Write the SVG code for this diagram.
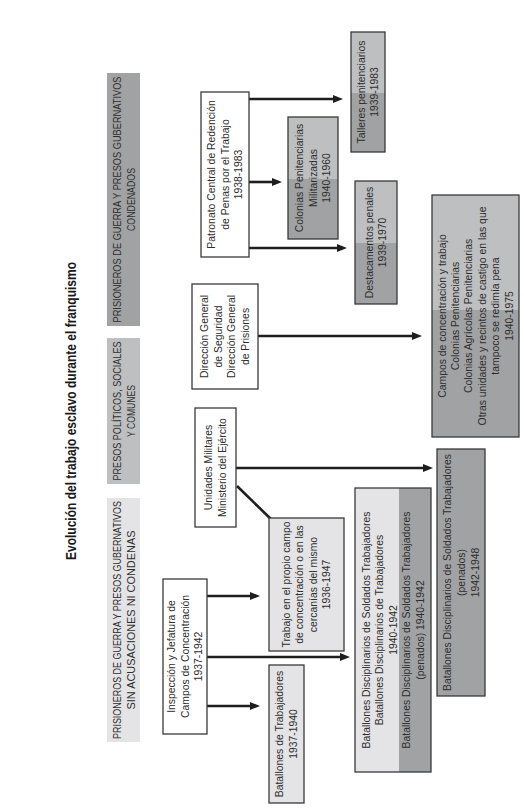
<svg xmlns="http://www.w3.org/2000/svg" width="524" height="808" viewBox="0 0 524 808">
<defs>
<style>
.bg{fill:#ffffff}
.box{stroke:#3a3a3a;stroke-width:1.3}
.w{fill:#ffffff}
.l{fill:#e4e4e6}
.m{fill:#bebfc1}
.d{fill:#a1a2a4}
.t{font-family:"Liberation Sans",Arial,sans-serif;font-size:10.4px;fill:#2e2e2e;text-anchor:middle}
.h{font-family:"Liberation Sans",Arial,sans-serif;font-size:10.2px;fill:#2e2e2e;text-anchor:middle}
.title{font-family:"Liberation Sans",Arial,sans-serif;font-size:14px;font-weight:bold;fill:#1a1a1a;text-anchor:middle}
.c{stroke:#1e1e1e;stroke-width:2.6;fill:none;marker-end:url(#ah)}
</style>
<marker id="ah" markerUnits="userSpaceOnUse" markerWidth="10" markerHeight="8" refX="5" refY="4" orient="auto">
<path d="M0,0 L10,4 L0,8 z" fill="#1e1e1e"/>
</marker>
</defs>
<rect class="bg" x="0" y="0" width="524" height="808"/>

<g id="title" transform="translate(71,411) rotate(-90)">
<text class="title" x="0" y="5" textLength="298" lengthAdjust="spacingAndGlyphs">Evolución del trabajo esclavo durante el franquismo</text>
</g>

<g id="hdr-condenados">
<rect class="d" x="107" y="73" width="33" height="253"/>
<g transform="translate(123.5,199.5) rotate(-90)">
<text class="h" x="0" y="-2.3" textLength="246" lengthAdjust="spacingAndGlyphs">PRISIONEROS DE GUERRA Y PRESOS GUBERNATIVOS</text>
<text class="h" x="0" y="11.7" textLength="63" lengthAdjust="spacingAndGlyphs">CONDENADOS</text>
</g>
</g>

<g id="hdr-politicos">
<rect class="m" x="107" y="338" width="33" height="146"/>
<g transform="translate(123.5,411) rotate(-90)">
<text class="h" x="0" y="-2.3" textLength="139" lengthAdjust="spacingAndGlyphs">PRESOS POLÍTICOS, SOCIALES</text>
<text class="h" x="0" y="11.7" textLength="52" lengthAdjust="spacingAndGlyphs">Y COMUNES</text>
</g>
</g>

<g id="hdr-sin-condenas">
<rect class="l" x="107" y="498" width="33" height="244"/>
<g transform="translate(123.5,620) rotate(-90)">
<text class="h" x="0" y="-2.3" textLength="238" lengthAdjust="spacingAndGlyphs">PRISIONEROS DE GUERRA Y PRESOS GUBERNATIVOS</text>
<text class="h" x="0" y="11.7" textLength="179" lengthAdjust="spacingAndGlyphs">SIN ACUSACIONES NI CONDENAS</text>
</g>
</g>

<g id="connectors">
<line class="c" x1="249" y1="99" x2="338" y2="99"/>
<line class="c" x1="249" y1="182" x2="277" y2="182"/>
<line class="c" x1="249" y1="248" x2="342" y2="248"/>
<line class="c" x1="258" y1="336" x2="417" y2="336"/>
<line class="c" x1="236" y1="468" x2="428" y2="468"/>
<line class="c" x1="237" y1="486" x2="276.5" y2="524.5"/>
<line class="c" x1="207" y1="596" x2="255" y2="596"/>
<line class="c" x1="207" y1="657" x2="345" y2="657"/>
<line class="c" x1="207" y1="706" x2="255" y2="706"/>
</g>

<g id="patronato">
<rect class="box w" x="201" y="92" width="48" height="165"/>
<g transform="translate(225,174.5) rotate(-90)">
<text class="t" x="0" y="-9.9">Patronato Central de Redención</text>
<text class="t" x="0" y="3.6">de Penas por el Trabajo</text>
<text class="t" x="0" y="17.1">1938-1983</text>
</g>
</g>

<g id="colonias-militarizadas">
<rect class="m" x="288" y="117" width="50" height="62"/>
<rect class="d" x="288" y="179" width="50" height="60"/>
<rect class="box" fill="none" x="288" y="117" width="50" height="122"/>
<g transform="translate(313,178) rotate(-90)">
<text class="t" x="0" y="-9.9">Colonias Penitenciarias</text>
<text class="t" x="0" y="3.6">Militarizadas</text>
<text class="t" x="0" y="17.1">1940-1960</text>
</g>
</g>

<g id="talleres">
<rect class="m" x="351" y="32" width="34" height="61"/>
<rect class="d" x="351" y="93" width="34" height="59"/>
<rect class="box" fill="none" x="351" y="32" width="34" height="120"/>
<g transform="translate(368,92) rotate(-90)">
<text class="t" x="0" y="-3.1">Talleres penitenciarios</text>
<text class="t" x="0" y="10.4">1939-1983</text>
</g>
</g>

<g id="destacamentos">
<rect class="m" x="355" y="181" width="42" height="62"/>
<rect class="d" x="355" y="243" width="42" height="61"/>
<rect class="box" fill="none" x="355" y="181" width="42" height="123"/>
<g transform="translate(376,242.5) rotate(-90)">
<text class="t" x="0" y="-3.1">Destacamentos penales</text>
<text class="t" x="0" y="10.4">1939-1970</text>
</g>
</g>

<g id="direccion">
<rect class="box w" x="192" y="284" width="66" height="105"/>
<g transform="translate(225,336.5) rotate(-90)">
<text class="t" x="0" y="-16.9">Dirección General</text>
<text class="t" x="0" y="-3.3">de Seguridad</text>
<text class="t" x="0" y="10.4">Dirección General</text>
<text class="t" x="0" y="24.1">de Prisiones</text>
</g>
</g>

<g id="campos">
<rect class="m" x="432" y="195" width="87" height="115"/>
<rect class="d" x="432" y="310" width="87" height="127"/>
<rect class="box" fill="none" x="432" y="195" width="87" height="242"/>
<g transform="translate(475.5,316) rotate(-90)">
<text class="t" x="0" y="-30">Campos de concentración y trabajo</text>
<text class="t" x="0" y="-16.6">Colonias Penitenciarias</text>
<text class="t" x="0" y="-3.2">Colonias Agrícolas Penitenciarias</text>
<text class="t" x="0" y="10.2">Otras unidades y recintos de castigo en las que</text>
<text class="t" x="0" y="23.6">tampoco se redimía pena</text>
<text class="t" x="0" y="37">1940-1975</text>
</g>
</g>

<g id="unidades">
<rect class="box w" x="195" y="408" width="41" height="119"/>
<g transform="translate(215.5,467.5) rotate(-90)">
<text class="t" x="0" y="-3.1">Unidades Militares</text>
<text class="t" x="0" y="10.4">Ministerio del Ejército</text>
</g>
</g>

<g id="trabajo-campo">
<rect class="box l" x="269" y="518" width="75" height="133"/>
<g transform="translate(306.5,584.5) rotate(-90)">
<text class="t" x="0" y="-16.6">Trabajo en el propio campo</text>
<text class="t" x="0" y="-3.1">de concentración o en las</text>
<text class="t" x="0" y="10.4">cercanías del mismo</text>
<text class="t" x="0" y="23.9">1936-1947</text>
</g>
</g>

<g id="inspeccion">
<rect class="box w" x="163" y="579" width="44" height="155"/>
<g transform="translate(185,656.5) rotate(-90)">
<text class="t" x="0" y="-9.9">Inspección y Jefatura de</text>
<text class="t" x="0" y="3.6">Campos de Concentración</text>
<text class="t" x="0" y="17.1">1937-1942</text>
</g>
</g>

<g id="batallones-trabajadores">
<rect class="box l" x="269" y="665" width="35" height="138"/>
<g transform="translate(286.5,734) rotate(-90)">
<text class="t" x="0" y="-3.1">Batallones de Trabajadores</text>
<text class="t" x="0" y="10.4">1937-1940</text>
</g>
</g>

<g id="batallones-disciplinarios">
<rect class="l" x="355" y="488" width="44" height="284"/>
<rect class="d" x="399" y="488" width="32" height="284"/>
<rect class="box" fill="none" x="355" y="488" width="76" height="284"/>
<g transform="translate(379.5,630) rotate(-90)">
<text class="t" x="0" y="-9.9">Batallones Disciplinarios de Soldados Trabajadores</text>
<text class="t" x="0" y="3.6">Batallones Disciplinarios de Trabajadores</text>
<text class="t" x="0" y="17.1">1940-1942</text>
</g>
<g transform="translate(413.5,630) rotate(-90)">
<text class="t" x="0" y="-3.1">Batallones Disciplinarios de Soldados Trabajadores</text>
<text class="t" x="0" y="10.4">(penados) 1940-1942</text>
</g>
</g>

<g id="batallones-penados">
<rect class="box d" x="437" y="449" width="48" height="247"/>
<g transform="translate(461,572.5) rotate(-90)">
<text class="t" x="0" y="-10.4">Batallones Disciplinarios de Soldados Trabajadores</text>
<text class="t" x="0" y="3.6">(penados)</text>
<text class="t" x="0" y="17.6">1942-1948</text>
</g>
</g>
</svg>
